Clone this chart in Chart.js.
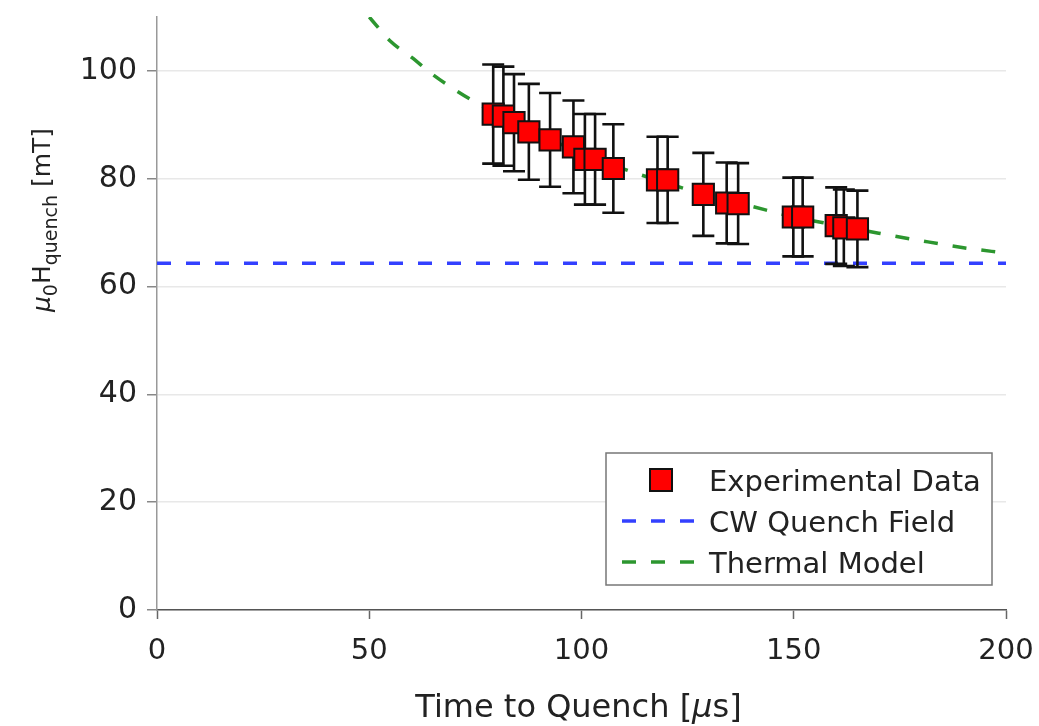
<!DOCTYPE html>
<html>
<head>
<meta charset="utf-8">
<title>Quench field vs time to quench</title>
<script src="https://cdn.jsdelivr.net/npm/chart.js@4.4.1/dist/chart.umd.min.js"></script>
<style>
  html, body { margin: 0; padding: 0; background: #fff; }
  #quenchChart { display: block; }
</style>
</head>
<body>
<canvas id="quenchChart" width="1039" height="726"></canvas>
<script>
// measured pulses: time to quench [us], quench field [mT] and its +/- error
const quenchTimes  = [79.2, 81.6, 84.1, 87.6, 92.6, 98.1, 100.8, 103.2, 107.5, 117.9, 120.3, 128.7, 134.2, 136.9, 149.9, 152.1, 160.0, 161.8, 165.0];
const quenchFields = [92.0, 91.6, 90.4, 88.7, 87.2, 85.9, 83.6, 83.6, 81.9, 79.8, 79.8, 77.1, 75.5, 75.4, 72.9, 72.9, 71.3, 70.9, 70.7];
const fieldErrors  = [9.2, 9.2, 9.0, 8.9, 8.7, 8.6, 8.4, 8.4, 8.2, 8.0, 8.0, 7.7, 7.5, 7.5, 7.3, 7.3, 7.1, 7.1, 7.1];

// CW quench level
const cwTimes  = [0, 200];
const cwFields = [64.3, 64.3];

// thermal model curve
const modelTimes  = [50, 55, 60, 65, 70, 75, 80, 90, 100, 110, 120, 130, 140, 150, 160, 170, 180, 190, 200];
const modelFields = [110.0, 105.5, 102.5, 99.3, 96.6, 94.2, 92.0, 88.2, 84.8, 81.8, 79.2, 76.9, 74.9, 72.9, 71.4, 69.9, 68.5, 67.2, 66.2];

const xTicks = [0, 50, 100, 150, 200];
const yTicks = [0, 20, 40, 60, 80, 100];

const FONT = "'DejaVu Sans', 'Noto Sans', sans-serif";
const RED = '#ff0000';
const BLUE = '#3340ff';
const GREEN = '#2c962f';
const DASH = [14, 15];

const pairs = (xs, ys) => xs.map((x, i) => ({ x: x, y: ys[i] }));

// vertical error bars with caps, drawn just before the markers
const errorBars = {
    id: 'errorBars',
    beforeDatasetDraw(chart, args) {
        if (args.index !== 0) return;
        const { ctx, scales: { x, y } } = chart;
        const cap = 11;
        ctx.save();
        ctx.strokeStyle = '#111';
        ctx.lineWidth = 2.6;
        quenchTimes.forEach((t, i) => {
            const px = x.getPixelForValue(t);
            const top = y.getPixelForValue(quenchFields[i] + fieldErrors[i]);
            const bot = y.getPixelForValue(quenchFields[i] - fieldErrors[i]);
            ctx.beginPath();
            ctx.moveTo(px, top); ctx.lineTo(px, bot);
            ctx.moveTo(px - cap, top); ctx.lineTo(px + cap, top);
            ctx.moveTo(px - cap, bot); ctx.lineTo(px + cap, bot);
            ctx.stroke();
        });
        ctx.restore();
    }
};

// draws a run of text pieces (subscripts, italics) one after another
function runWidth(ctx, parts) {
    return parts.reduce((w, p) => { ctx.font = p.font; return w + ctx.measureText(p.text).width; }, 0);
}
function drawRun(ctx, parts, x0, y0) {
    let x = x0;
    parts.forEach(p => {
        ctx.font = p.font;
        ctx.fillText(p.text, x, y0 + (p.dy || 0));
        x += ctx.measureText(p.text).width;
    });
}

const axisTitles = {
    id: 'axisTitles',
    afterDraw(chart) {
        const { ctx, chartArea } = chart;
        ctx.save();
        ctx.fillStyle = '#222';
        ctx.textBaseline = 'alphabetic';
        ctx.textAlign = 'left';

        const xParts = [
            { text: 'Time to Quench [', font: `32px ${FONT}` },
            { text: 'μ', font: `italic 32px ${FONT}` },
            { text: 's]', font: `32px ${FONT}` }
        ];
        const xw = runWidth(ctx, xParts);
        drawRun(ctx, xParts, (chartArea.left + chartArea.right) / 2 - 3 - xw / 2, 717);

        const yParts = [
            { text: 'μ', font: `italic 25px ${FONT}` },
            { text: '0', font: `19px ${FONT}`, dy: 7 },
            { text: 'H', font: `25px ${FONT}` },
            { text: 'quench', font: `19px ${FONT}`, dy: 7 },
            { text: ' [mT]', font: `25px ${FONT}` }
        ];
        const yw = runWidth(ctx, yParts);
        ctx.translate(50, 220);
        ctx.rotate(-Math.PI / 2);
        drawRun(ctx, yParts, -yw / 2, 0);
        ctx.restore();
    }
};

// boxed legend in the lower right of the plot
const boxLegend = {
    id: 'boxLegend',
    afterDraw(chart) {
        const { ctx, chartArea } = chart;
        const w = 386, h = 132;
        const left = chartArea.right - 14 - w;
        const top = chartArea.bottom - 25 - h;
        ctx.save();
        ctx.fillStyle = '#fff';
        ctx.fillRect(left, top, w, h);
        ctx.strokeStyle = '#777';
        ctx.lineWidth = 1.5;
        ctx.strokeRect(left, top, w, h);

        ctx.font = `29px ${FONT}`;
        ctx.textBaseline = 'alphabetic';
        ctx.textAlign = 'left';
        chart.data.datasets.forEach((ds, i) => {
            const cy = top + 27 + i * 41;
            if (ds.showLine) {
                ctx.strokeStyle = ds.borderColor;
                ctx.lineWidth = ds.borderWidth;
                ctx.setLineDash(DASH);
                ctx.beginPath();
                ctx.moveTo(left + 16, cy);
                ctx.lineTo(left + 90, cy);
                ctx.stroke();
                ctx.setLineDash([]);
            } else {
                ctx.fillStyle = ds.pointBackgroundColor;
                ctx.fillRect(left + 44, cy - 11, 22, 22);
                ctx.strokeStyle = ds.pointBorderColor;
                ctx.lineWidth = 2;
                ctx.strokeRect(left + 44, cy - 11, 22, 22);
            }
            ctx.fillStyle = '#222';
            ctx.fillText(ds.label, left + 103, cy + 11);
        });
        ctx.restore();
    }
};

new Chart(document.getElementById('quenchChart'), {
    type: 'scatter',
    data: {
        datasets: [
            {
                label: 'Experimental Data',
                data: pairs(quenchTimes, quenchFields),
                showLine: false,
                pointStyle: 'rect',
                pointRadius: 15,
                pointBackgroundColor: RED,
                pointBorderColor: '#111',
                pointBorderWidth: 2
            },
            {
                label: 'CW Quench Field',
                data: pairs(cwTimes, cwFields),
                showLine: true,
                borderColor: BLUE,
                borderWidth: 3.5,
                borderDash: DASH,
                pointRadius: 0
            },
            {
                label: 'Thermal Model',
                data: pairs(modelTimes, modelFields),
                showLine: true,
                borderColor: GREEN,
                borderWidth: 3.5,
                borderDash: DASH,
                pointRadius: 0,
                cubicInterpolationMode: 'monotone'
            }
        ]
    },
    options: {
        responsive: false,
        animation: false,
        events: [],
        layout: { padding: { top: 12, right: 33, left: 0, bottom: 0 } },
        plugins: {
            legend: { display: false },
            tooltip: { enabled: false }
        },
        scales: {
            x: {
                type: 'linear',
                min: 0,
                max: 200,
                afterBuildTicks: s => { s.ticks = xTicks.map(v => ({ value: v })); },
                afterFit: s => { s.height = 116; s.paddingLeft = 0; s.paddingRight = 0; },
                grid: { drawOnChartArea: false, tickLength: 9, tickColor: '#666', tickWidth: 1.5 },
                border: { color: '#555', width: 1.5 },
                ticks: { color: '#222', font: { size: 29, family: FONT }, padding: 15, maxRotation: 0 }
            },
            y: {
                type: 'linear',
                min: 0,
                max: 110,
                afterBuildTicks: s => { s.ticks = yTicks.map(v => ({ value: v })); },
                afterFit: s => { s.width = 157; s.paddingTop = 0; s.paddingBottom = 0; },
                grid: { color: '#e8e8e8', lineWidth: 1.5, tickLength: 10, tickColor: '#888', tickWidth: 1.5 },
                border: { color: '#999', width: 1.5 },
                ticks: { color: '#222', font: { size: 30, family: FONT }, padding: 10 }
            }
        }
    },
    plugins: [errorBars, axisTitles, boxLegend]
});
</script>
</body>
</html>
